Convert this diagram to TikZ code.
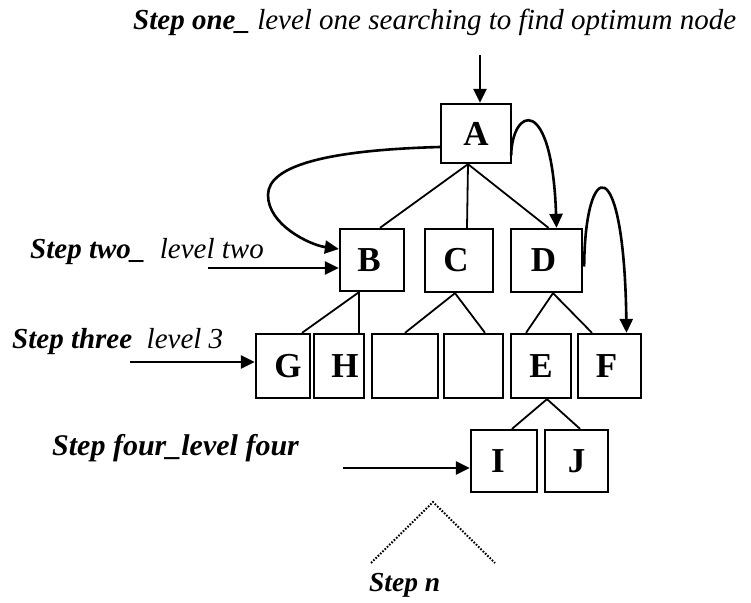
\documentclass[tikz,border=0pt]{standalone}
\usepackage{fontspec}
\setmainfont{Liberation Serif}
\usetikzlibrary{arrows.meta}
\begin{document}
\begin{tikzpicture}[x=1pt,y=-1pt,
  box/.style={draw,line width=2.3pt,inner sep=0pt,font=\fontsize{35}{37}\selectfont\bfseries},
  link/.style={line width=1.8pt},
  arr/.style={line width=2.6pt,-{Triangle[length=14pt,width=13pt]}},
  lbl/.style={inner sep=0pt,anchor=base west,font=\fontsize{29}{31}\selectfont\itshape},
  stepbf/.style={font=\fontsize{30}{32}\selectfont\bfseries\itshape}]
\useasboundingbox (0,0) rectangle (751,602);

% level one
\node[box,minimum width=70pt,minimum height=59pt] (A) at (476,133.5) {A};
% level two
\node[box,minimum width=64pt,minimum height=62pt] (B) at (372,260) {B\hspace*{6pt}};
\node[box,minimum width=68pt,minimum height=63pt] (C) at (459,260.5) {C\hspace*{6pt}};
\node[box,minimum width=71pt,minimum height=63pt] (D) at (546.5,260.5) {D\hspace*{6pt}};
% level three
\node[box,minimum width=54pt,minimum height=64pt] (G) at (283,366) {\hspace*{10pt}G};
\node[box,minimum width=50pt,minimum height=64pt] (H) at (339,366) {\hspace*{12pt}H};
\node[box,minimum width=66pt,minimum height=64pt] (K1) at (405,366) {};
\node[box,minimum width=59pt,minimum height=64pt] (K2) at (473.5,366) {};
\node[box,minimum width=60pt,minimum height=64pt] (E) at (541,366) {E};
\node[box,minimum width=63pt,minimum height=64pt] (F) at (609.5,366) {F\hspace*{6pt}};
% level four
\node[box,minimum width=66pt,minimum height=62pt] (I) at (504,461) {I\hspace*{12pt}};
\node[box,minimum width=63pt,minimum height=62pt] (J) at (576.5,461) {J};

% tree links
\draw[link] ([xshift=-8pt]A.south) -- ([xshift=8pt]B.north);
\draw[link] ([xshift=-8pt]A.south) -- ([xshift=8pt]C.north);
\draw[link] ([xshift=-8pt]A.south) -- ([xshift=2pt]D.north);
\draw[link] ([xshift=-13pt]B.south) -- ([xshift=19pt]G.north);
\draw[link] ([xshift=-13pt]B.south) -- ([xshift=20pt]H.north);
\draw[link] ([xshift=-4pt]C.south) -- (K1.north);
\draw[link] ([xshift=-4pt]C.south) -- ([xshift=11.5pt]K2.north);
\draw[link] ([xshift=6.5pt]D.south) -- ([xshift=-15pt]E.north);
\draw[link] ([xshift=6.5pt]D.south) -- ([xshift=-17.5pt]F.north);
\draw[link] ([xshift=6pt]E.south) -- ([xshift=8pt]I.north);
\draw[link] ([xshift=6pt]E.south) -- ([xshift=3.5pt]J.north);

% search arrows between nodes
\draw[arr] ([yshift=-13.5pt]A.west) .. controls (330,150) and (268,165) .. (268,195)
  .. controls (268,225) and (310,245) .. ([yshift=11pt]B.west);
\draw[arr] ([shift={(-1pt,-22pt)}]A.east) .. controls (512,108) and (552,92) .. ([xshift=10pt]D.north);
\draw[arr] ([shift={(1pt,-6pt)}]D.east) .. controls (585,158) and (624,148) .. ([xshift=17pt]F.north);

% entry arrows of each step
\coordinate (s1) at (480,55);
\coordinate (s2) at (208,268);
\coordinate (s3) at (130,362);
\coordinate (s4) at (343,468);
\draw[arr] (s1) -- ([xshift=4pt]A.north);
\draw[arr] (s2) -- ([yshift=-8pt]B.west);
\draw[arr] (s3) -- ([yshift=4pt]G.west);
\draw[arr] (s4) -- ([yshift=-7pt]I.west);

% open subtree of step n
\coordinate (n0) at (433,502);
\coordinate (n1) at (371,563);
\coordinate (n2) at (495,563);
\draw[line width=2pt,dash pattern=on 1.6pt off 1.6pt] (n1) -- (n0) -- (n2);

% step labels
\node[lbl] (t1) at (133,30) {{\bfseries Step one\_} level one searching to find optimum node};
\node[lbl] (t2) at (30,258) {{\bfseries Step two\_}\ \ level two};
\node[lbl] (t3) at (12,348) {{\bfseries Step three}\ \ level 3};
\node[lbl,stepbf] (t4) at (52,455) {Step four\_level four};
\node[lbl,font=\fontsize{27.5}{30}\selectfont\bfseries\itshape] (t5) at (369,591) {Step n};
\end{tikzpicture}
\end{document}
